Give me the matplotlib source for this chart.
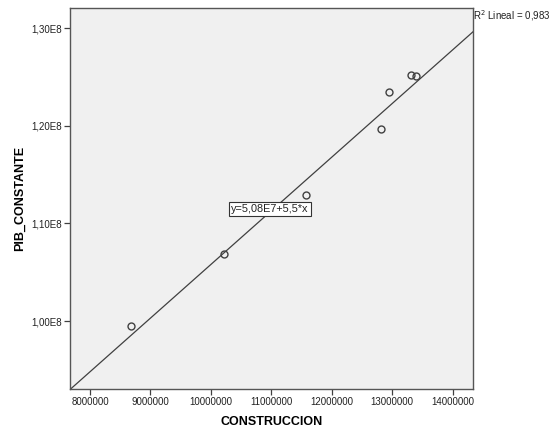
import matplotlib
matplotlib.use('Agg')
import matplotlib.pyplot as plt
import numpy as np

plt.rcParams['font.family'] = ['Liberation Sans', 'DejaVu Sans']

# datos
construccion = [8.68e6, 10.21e6, 11.57e6, 12.81e6, 12.94e6, 13.31e6, 13.39e6]
pib_constante = [0.9949e8, 1.0686e8, 1.1290e8, 1.1969e8, 1.2348e8, 1.2522e8, 1.2512e8]
intercepto = 5.08e7
pendiente = 5.5
r2 = 0.983

xticks = [8e6, 9e6, 10e6, 11e6, 12e6, 13e6, 14e6]
yticks = [1.0e8, 1.1e8, 1.2e8, 1.3e8]
yticklabels = ['1,00E8', '1,10E8', '1,20E8', '1,30E8']

fig = plt.figure(figsize=(5.49, 4.28), dpi=100)
ax = fig.add_axes((70/549, 1 - 389/428, 403/549, 381/428))
ax.set_facecolor('#f0f0f0')

xmin, xmax = 7.67e6, 14.335e6
ax.set_xlim(xmin, xmax)
ax.set_ylim(0.9304e8, 1.3208e8)

xs = np.array([xmin, xmax])
ax.plot(xs, intercepto + pendiente*xs, color='#404040', lw=0.9)
ax.plot(construccion, pib_constante, 'o', mfc='none', mec='#404040',
        ms=5, mew=1)

ax.set_xticks(xticks)
ax.set_xticklabels(['%d' % v for v in xticks])
ax.set_yticks(yticks)
ax.set_yticklabels(yticklabels)
ax.tick_params(direction='out', length=4, width=0.9, color='#404040',
               labelsize=7, labelcolor='#222222', pad=2)
for s in ax.spines.values():
    s.set_color('#555555')
    s.set_linewidth(1)

ax.set_xlabel('CONSTRUCCION', fontsize=9, fontweight='bold', labelpad=6)
ax.set_ylabel('PIB_CONSTANTE', fontsize=9, fontweight='bold', labelpad=4)

ax.text(10.98e6, 1.1146e8, 'y=5,08E7+5,5*x', fontsize=7.8, ha='center',
        va='center', color='#222222',
        bbox=dict(boxstyle='square,pad=0.2', fc='white', ec='#333333', lw=0.8))

ax.text(1.0, 0.979, 'R$^2$ Lineal = 0,983', transform=ax.transAxes,
        fontsize=7, ha='left', va='center', color='#222222')

fig.savefig('out.png', dpi=100)
